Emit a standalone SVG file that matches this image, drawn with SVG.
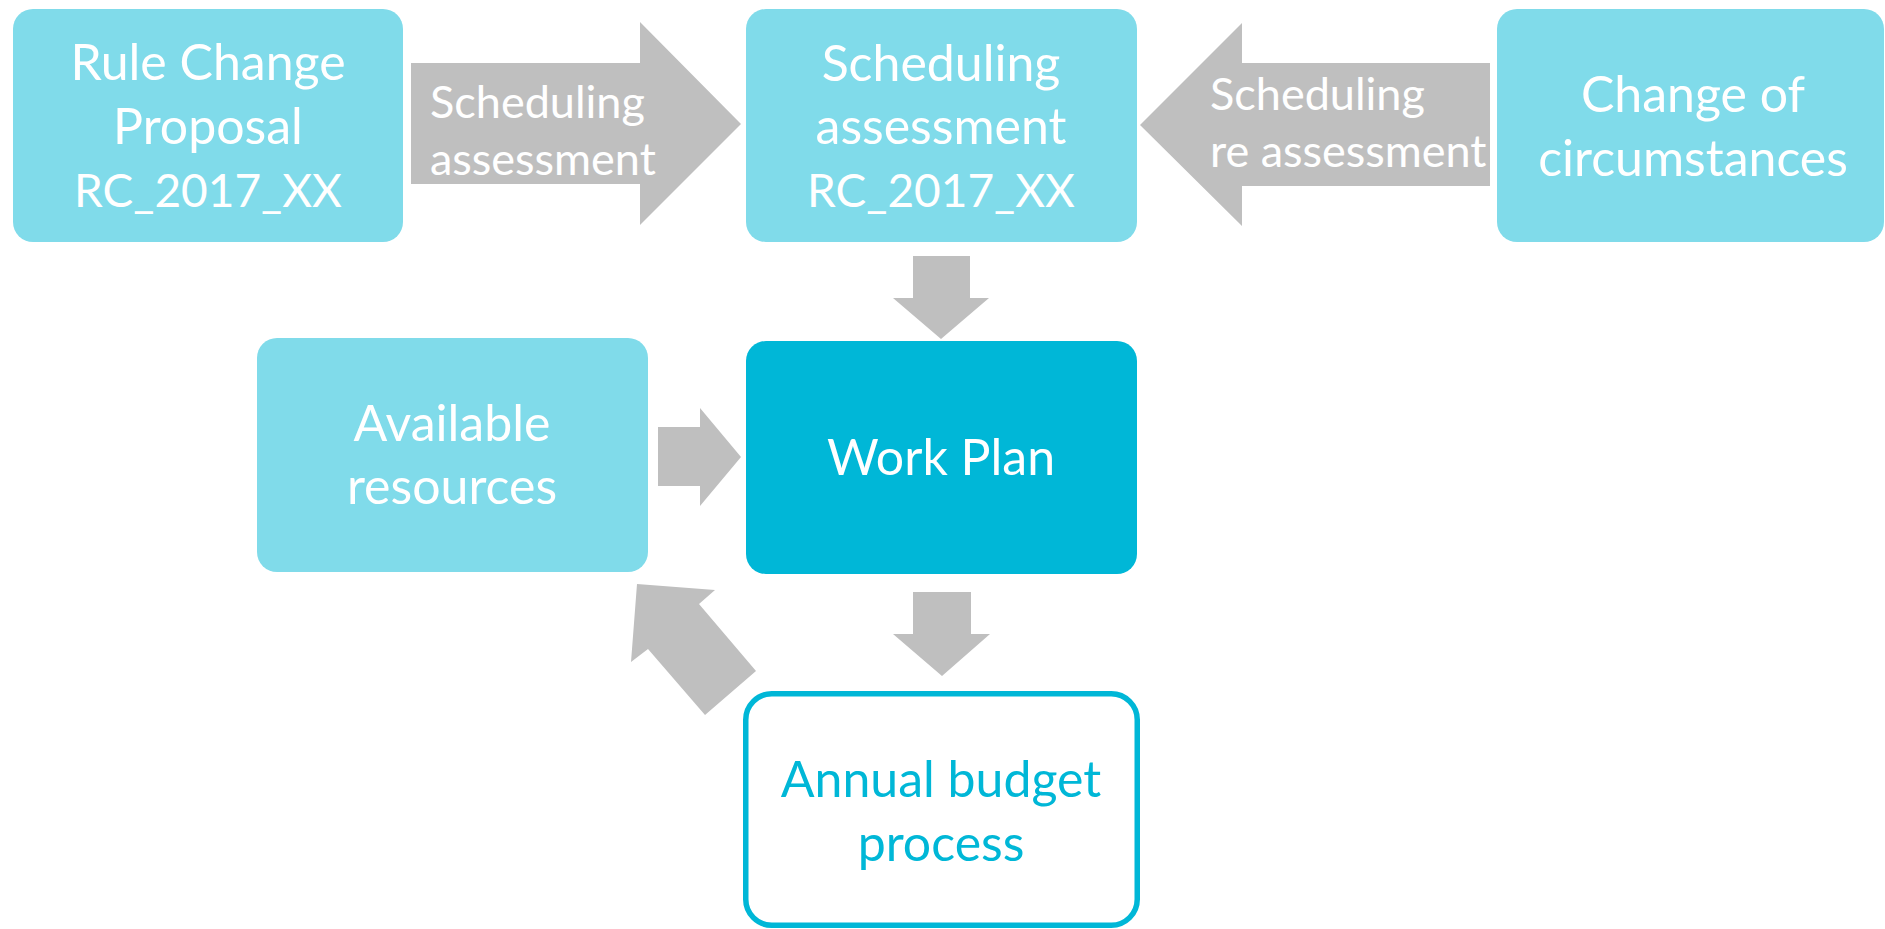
<svg xmlns="http://www.w3.org/2000/svg" width="1885" height="929" viewBox="0 0 1885 929">
<style>
.box{fill:#80DBEA;}
.dark{fill:#00B7D7;}
.outline{fill:#FFFFFF;stroke:#00B7D7;stroke-width:5.5;}
.arrow{fill:#BFBFBF;}
.t{font-family:Lato,"Open Sans","Liberation Sans",sans-serif;font-size:50px;fill:#FFFFFF;text-anchor:middle;}
.rc{font-size:46px;}
.al{font-family:Lato,"Open Sans","Liberation Sans",sans-serif;font-size:45px;fill:#FFFFFF;}
.tb{fill:#00B7D7;}
</style>
<rect width="1885" height="929" fill="#FFFFFF"/>
<g id="connectors">
  <polygon class="arrow" points="411,63 640,63 640,22 741,124 640,225 640,184 411,184"/>
  <polygon class="arrow" points="1490,63 1242,63 1242,23 1140,125 1242,226 1242,186 1490,186"/>
  <polygon class="arrow" points="913,256 970,256 970,298 989,298 941,339 893,298 913,298"/>
  <polygon class="arrow" points="658,427 700,427 700,408 741,457 700,506 700,486 658,486"/>
  <polygon class="arrow" points="913,592 971,592 971,634 990,634 942,676 893,634 913,634"/>
  <polygon class="arrow" points="637,584 715,590 699,604 756,671 705,715 648,649 631,662"/>
  <text class="al" x="430" y="118">Scheduling</text>
  <text class="al" x="430" y="175">assessment</text>
  <text class="al" x="1210" y="110">Scheduling</text>
  <text class="al" x="1210" y="167">re assessment</text>
</g>
<g id="rule-change">
  <rect class="box" x="13" y="9" width="390" height="233" rx="20"/>
  <text class="t" x="208" y="80">Rule Change</text>
  <text class="t" x="208" y="143.5">Proposal</text>
  <text class="t rc" x="208" y="207">RC_2017_XX</text>
</g>
<g id="scheduling-assessment">
  <rect class="box" x="746" y="9" width="391" height="233" rx="20"/>
  <text class="t" x="941" y="81">Scheduling</text>
  <text class="t" x="941" y="144">assessment</text>
  <text class="t rc" x="941" y="207">RC_2017_XX</text>
</g>
<g id="change-of-circumstances">
  <rect class="box" x="1497" y="9" width="387" height="233" rx="20"/>
  <text class="t" x="1693" y="112">Change of</text>
  <text class="t" x="1693" y="176">circumstances</text>
</g>
<g id="available-resources">
  <rect class="box" x="257" y="338" width="391" height="234" rx="20"/>
  <text class="t" x="452" y="441">Available</text>
  <text class="t" x="452" y="504">resources</text>
</g>
<g id="work-plan">
  <rect class="dark" x="746" y="341" width="391" height="233" rx="20"/>
  <text class="t" x="941" y="475">Work Plan</text>
</g>
<g id="annual-budget">
  <rect class="outline" x="745.75" y="693.75" width="391.5" height="231.5" rx="26"/>
  <text class="t tb" x="941" y="797">Annual budget</text>
  <text class="t tb" x="941" y="861">process</text>
</g>
</svg>
